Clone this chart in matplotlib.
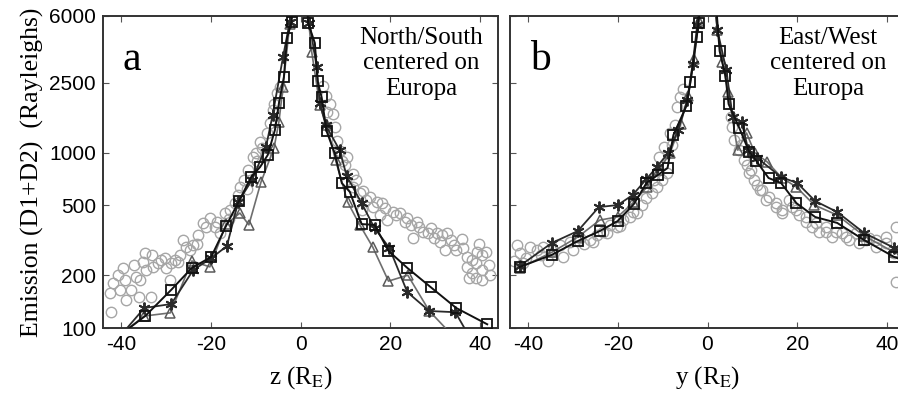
import matplotlib
matplotlib.use("Agg")
import matplotlib.pyplot as plt
from matplotlib.ticker import FixedLocator, NullLocator

# ---------------- data ----------------
# Panel a (North/South), x = z (R_E)
a_circ_z = [-42.4, -42.2, -41.7, -40.6, -40.2, -39.5, -39.0, -38.8, -37.7, -36.6, -35.7, -35.0,
            -34.6, -34.4, -33.3, -32.8, -31.7, -31.0, -30.2, -29.9, -29.0, -28.8, -27.9, -27.3,
            -26.2, -25.5, -24.6, -23.9, -22.8, -21.7, -21.0, -20.2, -19.0, -17.9, -16.8, -15.7,
            -14.6, -13.9, -13.5, -11.7, -10.6, -8.6, -7.5, -6.8, -6.2, -5.3, -4.6,
            -37.0, -36.0, -33.0, -26.8, -23.0, -18.5, -16.0, -12.5, -12.0, -9.8, -9.0, -8.0, -5.8, -10.0,
            6.5, 7.2, 7.6, 8.1, 8.7, 10.3, 11.6, 11.6, 13.2, 14.7, 13.8, 16.1, 18.1, 17.6, 19.2,
            20.5, 22.1, 23.2, 23.8, 24.7, 25.0, 26.5, 27.2, 28.3, 29.8, 31.0, 31.6, 32.7, 33.6,
            34.3, 32.1, 34.7, 36.1, 37.2, 38.3, 39.4, 40.5, 41.4, 37.0, 38.1, 39.2, 40.5, 40.5,
            39.2, 37.6,
            5.0, 5.6, 6.0, 9.3, 10.0, 12.3, 14.0, 15.5, 17.0, 18.8, 21.3, 26.0, 29.0, 30.5, 36.0,
            39.8, 42.0, 42.3]
a_circ_v = [158, 123, 180, 200, 165, 220, 188, 144, 165, 195, 188, 238,
            267, 214, 150, 223, 235, 244, 251, 220, 188, 235, 244, 238,
            317, 289, 278, 297, 339, 397, 376, 424, 376, 348, 452, 470,
            515, 572, 636, 795, 943, 1061, 1292, 1472, 1747, 2183, 2360,
            230, 150, 260, 260, 300, 400, 420, 700, 620, 900, 1150, 950, 1900, 1000,
            1889, 1656, 1397, 1163, 1020, 943, 754, 636, 588, 536, 470, 489, 515, 440, 412,
            458, 452, 402, 424, 387, 326, 376, 352, 348, 326, 309, 339, 348, 317,
            297, 278, 278, 286, 254, 244, 271, 261, 271, 223, 206, 193, 214, 188,
            235, 193,
            2400, 2100, 1700, 900, 850, 700, 600, 560, 520, 480, 440, 400, 370, 350, 320,
            300, 230, 200]

a_tri_z = [-41.0, -34.8, -29.0, -24.2, -20.2, -16.6, -13.5, -11.5, -8.8, -5.9, -4.8, -3.9, -2.4, -1.2,
           1.0, 2.5, 4.3, 5.8, 7.8, 10.5, 13.2, 16.1, 19.6, 23.9, 28.7, 33.8]
a_tri_v = [88, 117, 122, 241, 223, 390, 452, 387, 679, 1061, 1500, 2360, 5400, 9000,
           9000, 3740, 1865, 1435, 906, 522, 387, 289, 185, 200, 125, 91]

a_ast_z = [-41.0, -34.8, -28.8, -23.9, -19.9, -16.4, -13.9, -10.8, -7.7, -6.2, -3.9, -2.4, -1.2,
           1.2, 2.0, 3.6, 4.3, 5.6, 8.7, 10.3, 13.6, 16.5, 19.8, 23.8, 28.7, 34.5, 38.1]
a_ast_v = [85, 130, 137, 214, 250, 293, 522, 697, 1075, 1636, 3500, 5540, 9000,
           9000, 5500, 3070, 1915, 1435, 1033, 735, 515, 371, 286, 160, 125, 123, 85]

a_sq_z = [-41.0, -34.6, -28.8, -24.2, -19.9, -16.6, -13.7, -11.0, -9.0, -7.3, -5.7, -4.8, -3.7, -3.0,
          -2.0, -1.2, 1.2, 1.7, 3.2, 3.8, 4.7, 5.8, 7.6, 9.2, 11.0, 13.6, 16.5, 19.6, 23.8, 29.0,
          34.7, 41.6]
a_sq_v = [88, 117, 165, 220, 254, 381, 529, 725, 827, 968, 1344, 1915, 2692, 4492,
          5540, 9000, 9000, 5470, 4207, 2553, 2070, 1326, 994, 670, 596, 391, 387, 275, 220, 171,
          130, 105]

# Panel b (East/West), x = y (R_E)
b_circ_y = [-42.4, -41.8, -39.6, -38.0, -36.7, -34.4, -32.2, -32.9, -30.7, -28.4, -26.2, -24.7,
            -23.3, -21.8, -20.2, -18.9, -17.3, -15.8, -14.7, -13.6, -12.4, -11.3, -10.2, -9.1,
            -10.7, -9.6, -8.4, -7.3, -6.9, -6.2,
            -40.5, -37.2, -35.5, -30.0, -27.5, -25.5, -22.5, -19.5, -16.5, -12.0, -8.0, -5.5,
            -43.0, -41.0,
            6.0, 7.1, 8.2, 9.8, 9.3, 10.4, 11.1, 11.6, 12.2, 13.1, 13.8, 15.3, 15.3, 16.7, 16.7,
            18.2, 18.9, 19.8, 20.4, 22.0, 22.0, 23.3, 24.2, 24.9, 26.4, 26.4, 27.8, 28.7, 30.0,
            30.9, 31.6, 33.1, 33.8, 35.3, 36.0, 37.6, 37.6, 39.8, 39.8, 41.6, 42.0, 42.0,
            5.2, 5.5, 7.5, 8.7]
b_circ_v = [297, 267, 289, 278, 289, 278, 254, 297, 309, 326, 317, 339,
            352, 387, 376, 412, 429, 452, 502, 550, 588, 636, 697, 764,
            943, 1075, 1292, 1435, 1815, 2070,
            250, 260, 240, 280, 300, 310, 350, 380, 460, 700, 1100, 2300,
            240, 235,
            1178, 1033, 906, 795, 764, 697, 653, 611, 611, 536, 558, 515, 489, 470, 452,
            536, 489, 470, 440, 429, 402, 376, 397, 352, 376, 352, 330, 352, 348,
            330, 317, 348, 305, 317, 326, 317, 289, 330, 305, 267, 376, 183,
            1600, 1400, 1100, 850]

b_tri_y = [-41.8, -34.7, -28.9, -24.0, -20.0, -16.5, -13.4, -10.8, -8.3, -6.0, -4.3, -3.0, -2.0, -1.2,
           1.2, 2.2, 3.3, 4.6, 6.7, 8.7, 10.5, 13.3, 16.5, 19.8, 23.8, 28.9, 34.9, 41.6, 46.0]
b_tri_v = [220, 270, 330, 412, 430, 520, 640, 790, 1000, 1450, 2100, 3400, 5600, 9000,
           9000, 5000, 3300, 2200, 1033, 1292, 1000, 884, 720, 636, 502, 440, 335, 270, 245]

b_ast_y = [-41.8, -34.7, -28.9, -24.2, -20.0, -16.7, -13.6, -11.3, -8.7, -6.5, -4.5, -3.3, -2.3, -1.2,
           1.2, 2.2, 4.2, 5.6, 7.6, 9.1, 11.1, 16.4, 20.0, 24.0, 28.9, 34.9, 41.6, 46.0]
b_ast_v = [226, 305, 357, 489, 502, 572, 706, 827, 1000, 1350, 2000, 3200, 5300, 9000,
           9000, 4990, 2950, 1600, 1493, 1033, 930, 725, 670, 529, 458, 348, 286, 260]

b_sq_y = [-41.8, -34.7, -28.9, -24.0, -20.0, -16.4, -13.6, -11.1, -8.9, -7.6, -4.7, -3.8, -2.4, -2.0,
          -1.2, 1.2, 2.0, 2.7, 4.0, 4.7, 7.1, 9.3, 10.9, 13.6, 16.4, 19.8, 24.0, 28.9, 34.9, 41.6, 46.0]
b_sq_v = [223, 261, 313, 357, 407, 509, 670, 744, 816, 1258, 1841, 2522, 4552, 5470,
          9000, 9000, 6500, 3786, 2730, 1889, 1379, 1007, 894, 716, 670, 515, 429, 397, 317, 254, 230]

y_ticks = [100, 200, 500, 1000, 2500, 6000]
x_ticks = [-40, -20, 0, 20, 40]

# ---------------- style ----------------
plt.rcParams['mathtext.fontset'] = 'stix'
plt.rcParams['axes.unicode_minus'] = False
SERIF = 'Liberation Serif'
SANS = 'Liberation Sans'

W, H = 898, 395
fig = plt.figure(figsize=(W / 100, H / 100), dpi=100)

axw = 395 / W
axh = (328 - 16) / H
bot = (H - 328) / H
ax_a = fig.add_axes([103 / W, bot, axw, axh])
ax_b = fig.add_axes([510 / W, bot, axw, axh])

CIRC = '#a6a6a6'
TRI_L = '#6e6e6e'
AST = '#2a2a2a'
SQ = '#111111'


def draw(ax, cx, cv, tx, tv, ax_x, ax_v, sx, sv):
    ax.plot(cx, cv, linestyle='none', marker='o', markersize=7.5, markerfacecolor='none',
            markeredgecolor=CIRC, markeredgewidth=1.0, zorder=2)
    ax.plot(tx, tv, color=TRI_L, lw=1.2, marker='^', markersize=7.5, markerfacecolor='none',
            markeredgecolor='#5a5a5a', markeredgewidth=1.1, zorder=3)
    ax.plot(ax_x, ax_v, color=AST, lw=1.3, marker=(6, 2, 0), markersize=8.5,
            markeredgecolor=AST, markeredgewidth=1.4, zorder=4)
    ax.plot(sx, sv, color=SQ, lw=1.4, marker='s', markersize=7, markerfacecolor='none',
            markeredgecolor=SQ, markeredgewidth=1.3, zorder=5)
    ax.set_yscale('log')
    ax.set_xlim(-44, 44)
    ax.set_ylim(100, 6000)
    ax.yaxis.set_major_locator(FixedLocator(y_ticks))
    ax.yaxis.set_minor_locator(NullLocator())
    ax.xaxis.set_major_locator(FixedLocator(x_ticks))
    ax.tick_params(which='both', direction='in', length=4, width=0.8, color='#555555',
                   top=True, right=True, labelsize=15, pad=5)
    for s in ax.spines.values():
        s.set_linewidth(1.4)
        s.set_color('#333333')
    for lab in ax.get_xticklabels() + ax.get_yticklabels():
        lab.set_fontfamily(SANS)


draw(ax_a, a_circ_z, a_circ_v, a_tri_z, a_tri_v, a_ast_z, a_ast_v, a_sq_z, a_sq_v)
draw(ax_b, b_circ_y, b_circ_v, b_tri_y, b_tri_v, b_ast_y, b_ast_v, b_sq_y, b_sq_v)

ax_a.set_yticklabels([str(t) for t in y_ticks], fontfamily=SANS)
ax_b.set_yticklabels([])

ax_a.set_xlabel('z (R$_{\\mathrm{E}}$)', fontfamily=SERIF, fontsize=18, labelpad=7)
ax_b.set_xlabel('y (R$_{\\mathrm{E}}$)', fontfamily=SERIF, fontsize=18, labelpad=7)
ax_a.set_ylabel('Emission (D1+D2)  (Rayleighs)', fontfamily=SERIF, fontsize=18.5, labelpad=4)

ax_a.text(0.05, 0.86, 'a', transform=ax_a.transAxes, fontfamily=SERIF, fontsize=30,
          ha='left', va='center')
ax_b.text(0.05, 0.86, 'b', transform=ax_b.transAxes, fontfamily=SERIF, fontsize=30,
          ha='left', va='center')

ax_a.text(0.805, 0.965, 'North/South\ncentered on\nEuropa', transform=ax_a.transAxes,
          fontfamily=SERIF, fontsize=18, ha='center', va='top', multialignment='center',
          linespacing=1.2)
ax_b.text(0.805, 0.965, 'East/West\ncentered on\nEuropa', transform=ax_b.transAxes,
          fontfamily=SERIF, fontsize=18, ha='center', va='top', multialignment='center',
          linespacing=1.2)

fig.savefig('out.png', dpi=100)
